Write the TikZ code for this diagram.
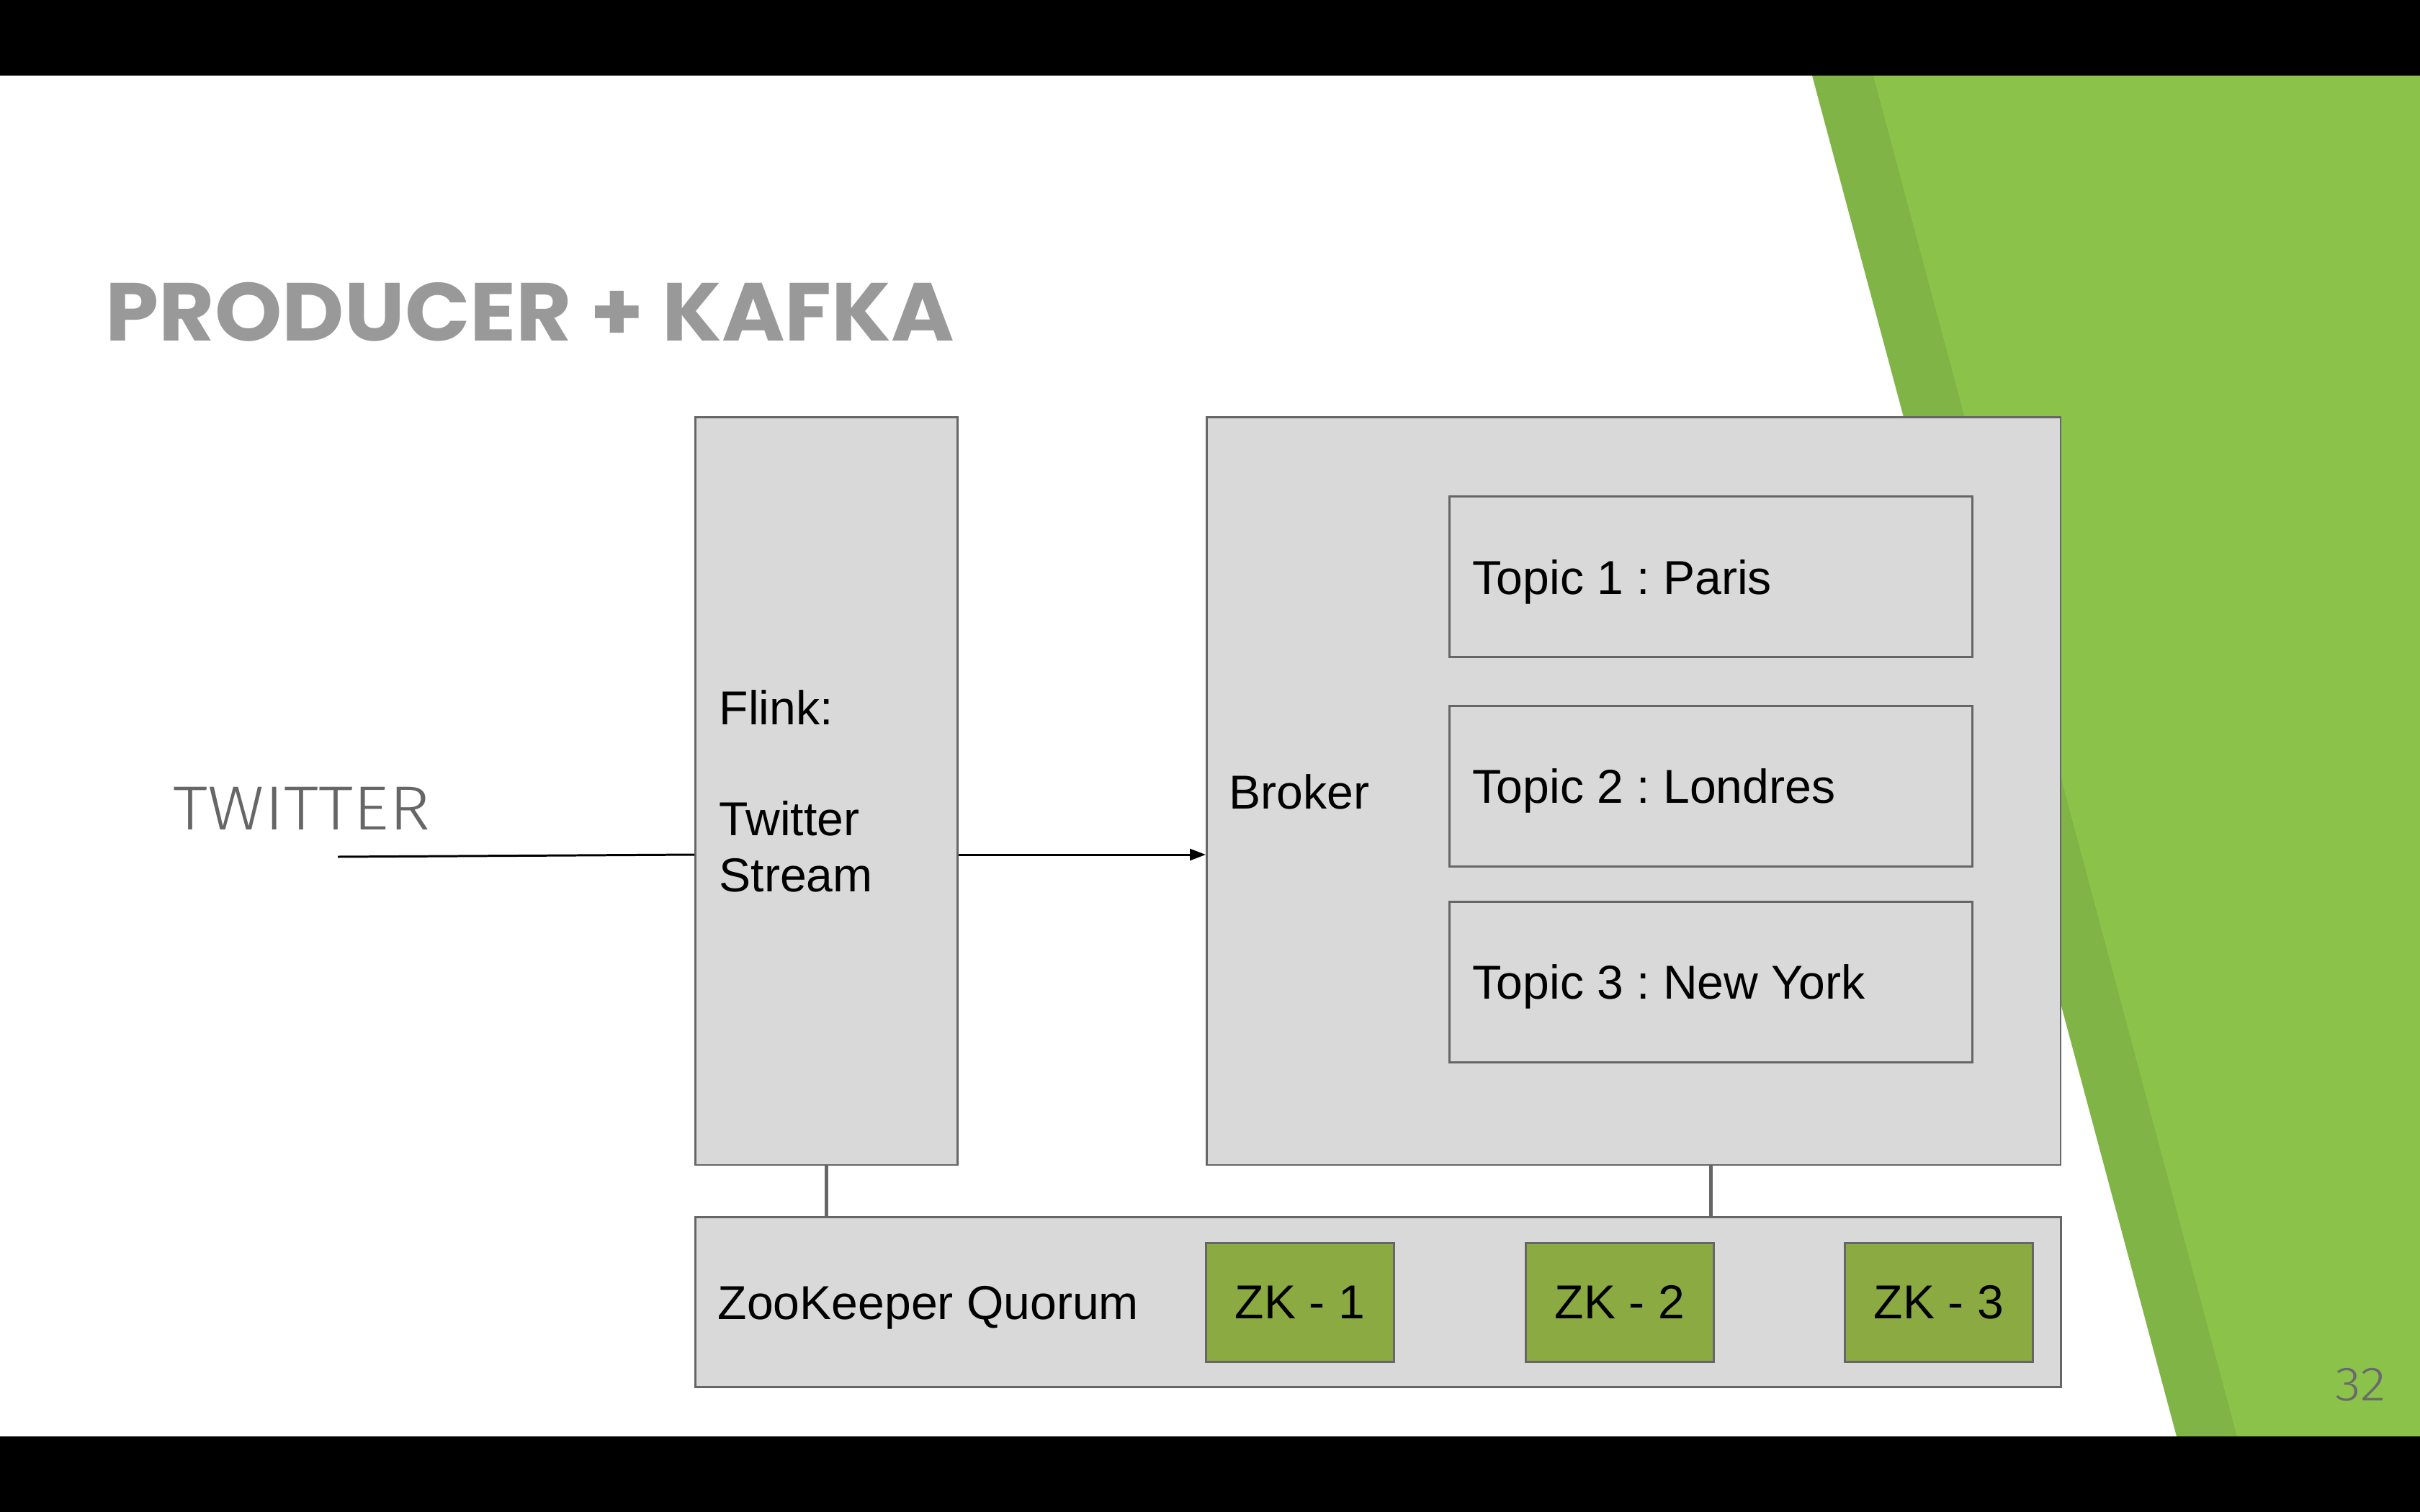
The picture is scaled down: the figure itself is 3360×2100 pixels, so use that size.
\documentclass[tikz,border=0pt]{standalone}
\usepackage{fontspec}
\setmainfont{Liberation Sans}
\newfontfamily\titlefont{Poppins}
\newfontfamily\thinfont{Fira Sans Light}
\usetikzlibrary{arrows.meta}
\frenchspacing
\definecolor{boxfill}{HTML}{D9D9D9}
\definecolor{boxline}{HTML}{666666}
\definecolor{greenlight}{HTML}{8BC34A}
\definecolor{greendark}{HTML}{80B446}
\definecolor{zkgreen}{HTML}{8BAB42}
\definecolor{titlegray}{HTML}{999999}
\definecolor{twgray}{HTML}{666666}
\definecolor{numgray}{HTML}{6A6A6A}
\tikzset{
  box/.style={draw=boxline, fill=boxfill, line width=0.75pt, inner sep=0pt, anchor=north west},
  zkbox/.style={box, fill=zkgreen, minimum width=2.61cm, minimum height=1.65cm, font=\fontsize{18.8pt}{21.9pt}\selectfont},
  txt/.style={inner sep=0pt, anchor=base west, font=\fontsize{18.8pt}{21.9pt}\selectfont},
  conn/.style={draw=boxline, line width=1.5pt},
  flow/.style={draw=black, line width=0.85pt},
  flowarrow/.style={flow, -{Triangle[length=0.22cm, width=0.16cm]}}
}
\begin{document}
\begin{tikzpicture}[x=0.01cm, y=-0.01cm]
\useasboundingbox (0,0) rectangle (3360,2100);
\fill[white] (0,0) rectangle (3360,2100);
% background decoration
\fill[greendark] (2516,105) -- (3360,105) -- (3360,1995) -- (3022,1995) -- cycle;
\fill[greenlight] (2601,105) -- (3360,105) -- (3360,1995) -- (3106,1995) -- cycle;
\fill[black] (0,0) rectangle (3360,105);
\fill[black] (0,1995) rectangle (3360,2100);
% title
\node[inner sep=0pt, anchor=base west, text=titlegray, xscale=1.04, font=\titlefont\bfseries\fontsize{32.5pt}{36pt}\selectfont] (title) at (146,473) {PRODUCER + KAFKA};
% boxes
\node[box, minimum width=3.64cm, minimum height=10.38cm] (flink) at (964,578) {};
\node[box, minimum width=11.85cm, minimum height=10.38cm] (broker) at (1674,578) {};
\node[box, minimum width=7.26cm, minimum height=2.23cm] (topic1) at (2011,688) {};
\node[box, minimum width=7.26cm, minimum height=2.23cm] (topic2) at (2011,979) {};
\node[box, minimum width=7.26cm, minimum height=2.23cm] (topic3) at (2011,1251) {};
\node[box, minimum width=18.95cm, minimum height=2.36cm] (zk) at (964,1689) {};
\node[zkbox] (zk1) at (1673,1725) {ZK - 1};
\node[zkbox] (zk2) at (2117,1725) {ZK - 2};
\node[zkbox] (zk3) at (2560,1725) {ZK - 3};
% labels
\node[txt, align=left] (flinklabel) at (998,1238) {Flink:\\\mbox{}\\Twitter\\Stream};
\node[txt] (brokerlabel) at (1706,1123) {Broker};
\node[txt] (t1label) at (2044,825) {Topic 1 : Paris};
\node[txt] (t2label) at (2044,1115) {Topic 2 : Londres};
\node[txt] (t3label) at (2044,1387) {Topic 3 : New York};
\node[txt] (zklabel) at (996,1832) {ZooKeeper Quorum};
\node[inner sep=0pt, anchor=base west, text=twgray, xscale=1.12, font=\thinfont\fontsize{24.6pt}{28pt}\selectfont] (twitter) at (240,1152) {TWITTER};
\node[inner sep=0pt, anchor=base east, text=numgray, xscale=1.1, font=\thinfont\fontsize{19pt}{22pt}\selectfont] (pagenum) at (3313,1945) {32};
% connectors
\coordinate (twend) at (469,1190);
\coordinate (lvl) at (0,1187);
\draw[flow] (twend) -- (flink.west |- lvl);
\draw[flowarrow] (flink.east |- lvl) -- (broker.west |- lvl);
\draw[conn] (flink.south) -- (flink.south |- zk.north);
\draw[conn] (topic3.south |- broker.south) -- (topic3.south |- zk.north);
\end{tikzpicture}
\end{document}
